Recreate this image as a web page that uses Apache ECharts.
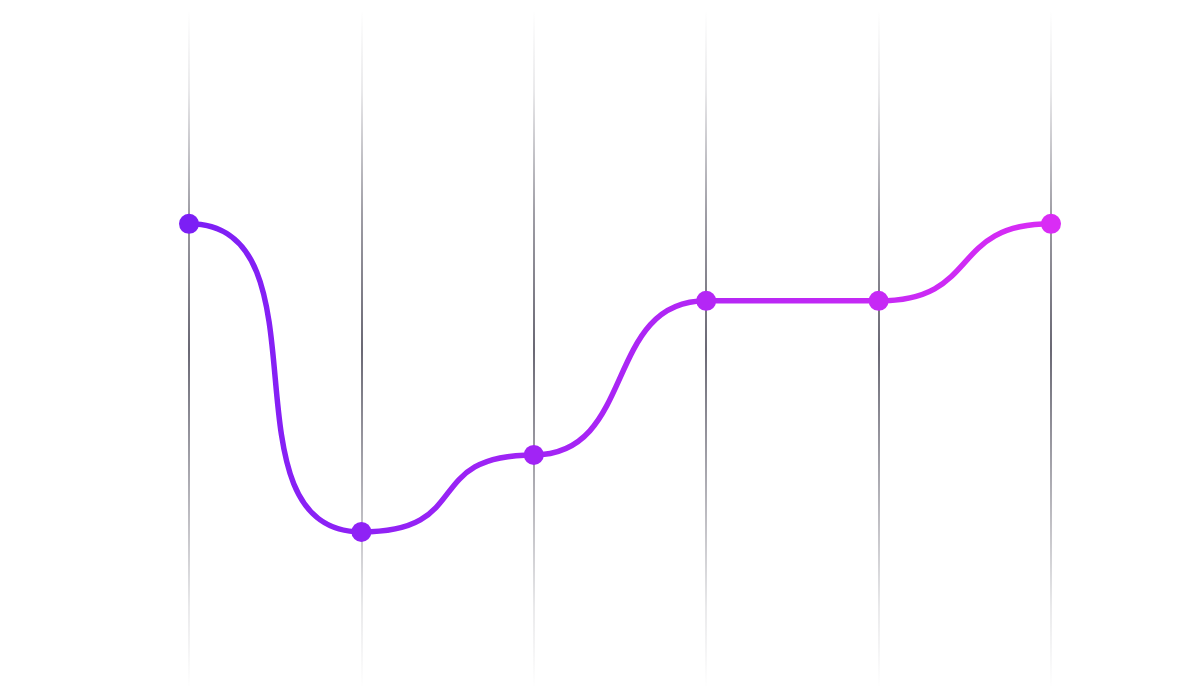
<!DOCTYPE html>
<html>
<head>
<meta charset="utf-8">
<script src="https://cdn.jsdelivr.net/npm/echarts@6/dist/echarts.min.js"></script>
<style>
  html, body { margin: 0; padding: 0; background: #ffffff; }
  #chart { width: 1200px; height: 700px; }
</style>
</head>
<body>
<div id="chart"></div>
<script>
// ---- data ----
var categories = [0, 1, 2, 3, 4, 5];
var values = [80, 40, 50, 70, 70, 80];
// curve tension of each segment between neighbouring points (style)
var segmentSmooth = [0.84, 0.66, 0.6, 0.6, 0.6];
var colorStart = '#7c1ff5';
var colorEnd = '#d92cf5';

var EPS = 0.01;
var series = [];

// one smooth line per segment; each keeps flat tangents at its two ends by
// repeating its end values just beside them (no symbol, hidden under the dots)
for (var i = 0; i < categories.length - 1; i++) {
  series.push({
    type: 'line',
    data: [
      [categories[i] - EPS, values[i]],
      [categories[i], values[i]],
      [categories[i + 1], values[i + 1]],
      [categories[i + 1] + EPS, values[i + 1]]
    ],
    smooth: segmentSmooth[i],
    smoothMonotone: 'x',
    symbol: 'none',
    clip: true,
    lineStyle: { width: 5.5, cap: 'round' },
    z: 2
  });
}

// the points
series.push({
  type: 'scatter',
  data: categories.map(function (c, k) { return [c, values[k]]; }),
  symbol: 'circle',
  symbolSize: 20,
  itemStyle: { opacity: 1 },
  z: 3
});

var seriesIdx = series.map(function (s, k) { return k; });

var chart = echarts.init(document.getElementById('chart'), null, { renderer: 'canvas' });
var gridLineGradient = new echarts.graphic.LinearGradient(0, 0, 0, 1, [
  { offset: 0, color: 'rgba(80,78,92,0)' },
  { offset: 0.12, color: 'rgba(80,78,92,0.12)' },
  { offset: 0.3, color: 'rgba(80,78,92,0.55)' },
  { offset: 0.5, color: 'rgba(80,78,92,0.85)' },
  { offset: 0.68, color: 'rgba(80,78,92,0.5)' },
  { offset: 0.88, color: 'rgba(80,78,92,0.12)' },
  { offset: 1, color: 'rgba(80,78,92,0)' }
]);

chart.setOption({
  animation: false,
  backgroundColor: '#ffffff',
  grid: { left: 189, right: 149, top: 12, height: 674, containLabel: false },
  xAxis: {
    type: 'value',
    min: 0,
    max: 5,
    interval: 1,
    axisLine: { show: false },
    axisTick: { show: false },
    axisLabel: { show: false },
    splitLine: { show: true, lineStyle: { color: gridLineGradient, width: 2 } }
  },
  yAxis: {
    type: 'value',
    min: 20,
    max: 107.5,
    axisLine: { show: false },
    axisTick: { show: false },
    axisLabel: { show: false },
    splitLine: { show: false }
  },
  visualMap: {
    show: false,
    type: 'continuous',
    dimension: 0,
    seriesIndex: seriesIdx,
    min: categories[0] - EPS,
    max: categories[categories.length - 1] + EPS,
    inRange: { color: [colorStart, colorEnd] }
  },
  series: series
});
</script>
</body>
</html>
